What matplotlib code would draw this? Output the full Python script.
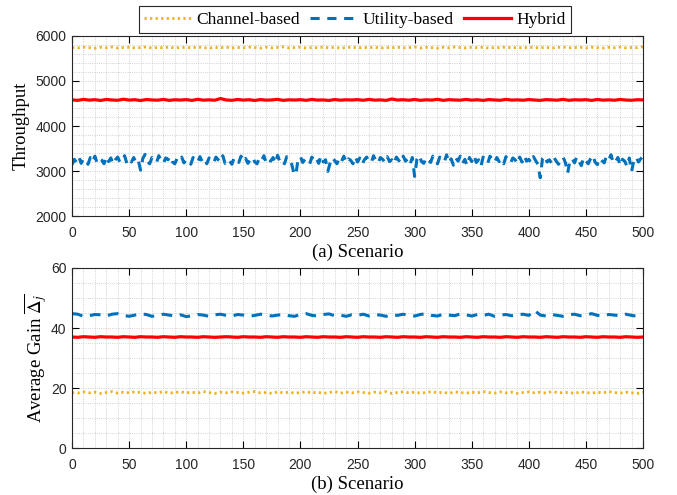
import numpy as np
import matplotlib.pyplot as plt
from matplotlib.ticker import MultipleLocator

plt.rcParams['mathtext.fontset'] = 'stix'

# scenario index, sampled every 5 scenarios (every 2 for the noisy utility curve)
scenario = np.arange(0, 501, 5)
scenario_fine = np.arange(0, 501, 2)

# (a) throughput
thr_channel = [5745, 5735, 5752, 5740, 5728, 5748, 5738, 5755, 5732, 5744,
               5750, 5736, 5742, 5758, 5730, 5746, 5739, 5752, 5734, 5743,
               5748, 5737, 5756, 5741, 5729, 5747, 5740, 5751, 5733, 5745,
               5738, 5754, 5742, 5731, 5749, 5736, 5746, 5757, 5735, 5743,
               5750, 5732, 5744, 5739, 5753, 5737, 5748, 5730, 5741, 5755,
               5734, 5746, 5740, 5752, 5729, 5745, 5738, 5750, 5736, 5743,
               5756, 5733, 5747, 5741, 5730, 5749, 5737, 5754, 5742, 5735,
               5748, 5739, 5751, 5731, 5744, 5740, 5757, 5736, 5746, 5733,
               5752, 5741, 5738, 5749, 5730, 5745, 5754, 5737, 5743, 5748,
               5735, 5750, 5740, 5732, 5747, 5739, 5753, 5736, 5744, 5741,
               5760]
thr_utility = [3140, 3260, 3190, 3310, 3170, 3280, 3220, 3150, 3300, 3200,
               3330, 3180, 3270, 3240, 3160, 3320, 3210, 3290, 3150, 3250,
               3310, 3190, 3230, 3340, 3170, 3260, 3200, 3300, 3180, 3240,
               3020, 3280, 3370, 3210, 3160, 3300, 3230, 3190, 3340, 3220,
               3170, 3290, 3250, 3330, 3200, 3160, 3280, 3230, 3310, 3180,
               3260, 3220, 3150, 3300, 3240, 3190, 3320, 3210, 3270, 3160,
               3290, 3230, 3180, 3310, 3250, 3200, 3340, 3170, 3260, 3220,
               3150, 3300, 3240, 3190, 3330, 3210, 3280, 3170, 3250, 3310,
               3200, 3160, 3290, 3230, 3340, 3180, 3260, 3220, 3300, 3170,
               3350, 3210, 3250, 3160, 3320, 3240, 3190, 2980, 2910, 3280,
               3320, 3190, 3260, 3230, 3150, 3310, 3220, 3280, 3170, 3340,
               3200, 3250, 2990, 3180, 3300, 3230, 3160, 3290, 3210, 3330,
               3180, 3270, 3240, 3160, 3320, 3200, 3290, 3150, 3250, 3310,
               3220, 3180, 3340, 3230, 3170, 3300, 3260, 3190, 3320, 3210,
               3250, 3160, 3310, 3240, 3180, 3330, 3220, 3270, 3150, 3300,
               2880, 3260, 3350, 3210, 3170, 3300, 3240, 3190, 3330, 3220,
               3160, 3310, 3250, 3200, 3360, 3180, 3270, 3130, 3290, 3220,
               3330, 3170, 3260, 3120, 3300, 3210, 3350, 3190, 3250, 3100,
               3310, 3220, 3170, 3330, 3240, 3190, 3300, 3210, 3270, 3160,
               3320, 3230, 3180, 3290, 3250, 3160, 3310, 3200, 3340, 3220,
               3260, 3180, 3320, 3230, 3150, 2850, 3280, 3340, 3200, 3250,
               3170, 3300, 3220, 3150, 3260, 3310, 3190, 2950, 3240, 3280,
               3180, 3320, 3210, 3120, 3300, 3230, 3160, 3270, 3350, 3200,
               3140, 3290, 3230, 3180, 3330, 3250, 3360, 3170, 3210, 3300,
               3120, 3260, 3220, 3100, 3290, 2990, 3240, 3310, 3200, 3270,
               3340]
thr_hybrid = [4580, 4570, 4592, 4575, 4585, 4568, 4590, 4578, 4572, 4595,
              4576, 4584, 4566, 4588, 4579, 4574, 4591, 4570, 4583, 4577,
              4586, 4569, 4593, 4575, 4581, 4573, 4610, 4578, 4571, 4589,
              4576, 4584, 4568, 4587, 4574, 4580, 4592, 4570, 4582, 4577,
              4585, 4571, 4590, 4576, 4579, 4568, 4588, 4574, 4583, 4578,
              4586, 4572, 4591, 4575, 4580, 4569, 4600, 4577, 4584, 4573,
              4589, 4571, 4582, 4576, 4593, 4570, 4585, 4578, 4574, 4590,
              4575, 4583, 4569, 4587, 4579, 4572, 4591, 4576, 4581, 4573,
              4588, 4577, 4570, 4586, 4580, 4574, 4592, 4571, 4583, 4578,
              4585, 4569, 4589, 4575, 4581, 4573, 4590, 4577, 4572, 4584,
              4580]

# (b) average gain
gain_channel = [18.5, 18.3, 18.7, 18.4, 18.6, 18.2, 18.5, 18.8, 18.3, 18.6,
                18.4, 18.7, 18.5, 18.2, 18.6, 18.4, 18.8, 18.3, 18.5, 18.7,
                18.4, 18.6, 18.3, 18.8, 18.5, 18.2, 18.6, 18.4, 18.7, 18.5,
                18.3, 18.6, 18.8, 18.4, 18.5, 18.2, 18.7, 18.4, 18.6, 18.3,
                18.5, 18.7, 18.4, 18.6, 18.2, 18.5, 18.8, 18.3, 18.6, 18.4,
                18.7, 18.5, 18.3, 18.6, 18.4, 18.8, 18.2, 18.5, 18.7, 18.4,
                18.6, 18.3, 18.5, 18.8, 18.4, 18.6, 18.2, 18.7, 18.5, 18.3,
                18.6, 18.4, 18.8, 18.5, 18.3, 18.7, 18.4, 18.6, 18.2, 18.5,
                18.7, 18.4, 18.6, 18.3, 18.8, 18.5, 18.4, 18.6, 18.2, 18.7,
                18.5, 18.3, 18.6, 18.4, 18.8, 18.5, 18.3, 18.6, 18.4, 18.2,
                18.6]
gain_utility = [44.8, 44.6, 43.9, 44.1, 44.5, 44.4, 44.0, 44.6, 44.8, 44.2,
                43.9, 44.3, 44.7, 44.5, 43.9, 44.2, 44.6, 44.3, 44.0, 44.4,
                43.8, 44.1, 44.5, 44.3, 43.9, 44.4, 44.6, 44.2, 44.0, 44.5,
                44.3, 43.9, 44.2, 44.6, 44.4, 44.0, 44.3, 44.5, 44.1, 43.9,
                44.6, 44.8, 44.2, 44.0, 44.5, 44.7, 44.1, 44.3, 43.9, 44.4,
                44.2, 44.6, 44.0, 44.5, 44.3, 43.9, 44.4, 44.2, 44.6, 44.1,
                44.0, 44.5, 44.8, 44.2, 44.0, 44.6, 44.3, 44.1, 44.7, 44.4,
                44.0, 44.5, 44.2, 44.6, 43.9, 44.3, 44.5, 44.1, 44.4, 44.6,
                44.2, 45.9, 44.3, 44.0, 44.5, 44.2, 43.9, 44.4, 44.6, 44.1,
                44.3, 44.8, 44.2, 44.0, 44.5, 44.3, 44.1, 44.6, 44.2, 43.9,
                43.7]
gain_hybrid = [37.0, 36.9, 37.1, 37.0, 36.9, 37.1, 37.0, 37.0, 36.9, 37.1,
               37.0, 36.9, 37.1, 37.0, 37.0, 36.9, 37.1, 37.0, 36.9, 37.1,
               37.0, 37.0, 36.9, 37.1, 37.0, 36.9, 37.0, 37.1, 37.0, 36.9,
               37.1, 37.0, 37.0, 36.9, 37.1, 37.0, 36.9, 37.1, 37.0, 37.0,
               36.9, 37.1, 37.0, 36.9, 37.1, 37.0, 37.0, 36.9, 37.1, 37.0,
               36.9, 37.1, 37.0, 37.0, 36.9, 37.1, 37.0, 36.9, 37.1, 37.0,
               37.0, 36.9, 37.1, 37.0, 36.9, 37.1, 37.0, 37.0, 36.9, 37.1,
               37.0, 36.9, 37.1, 37.0, 37.0, 36.9, 37.1, 37.0, 36.9, 37.1,
               37.0, 37.0, 36.9, 37.1, 37.0, 36.9, 37.1, 37.0, 37.0, 36.9,
               37.1, 37.0, 36.9, 37.1, 37.0, 37.0, 36.9, 37.1, 37.0, 36.9,
               37.0]

c_yellow = '#EDB120'
c_blue = '#0072BD'
c_red = '#FF0000'
serif = 'Liberation Serif'
sans = 'Liberation Sans'

fig = plt.figure(figsize=(6.77, 4.95), dpi=100)
ax1 = fig.add_axes([0.1064, 0.5636, 0.8434, 0.3637])
ax2 = fig.add_axes([0.1064, 0.0949, 0.8434, 0.3637])


def style_axes(ax, ymin, ymax, ymajor, yminor, xlabel, ylabel, ylabelpad):
    ax.set_xlim(0, 500)
    ax.set_ylim(ymin, ymax)
    ax.xaxis.set_major_locator(MultipleLocator(50))
    ax.xaxis.set_minor_locator(MultipleLocator(10))
    ax.yaxis.set_major_locator(MultipleLocator(ymajor))
    ax.yaxis.set_minor_locator(MultipleLocator(yminor))
    ax.grid(True, which='both', linestyle=':', color='#c4c4c4', linewidth=0.6)
    ax.set_axisbelow(True)
    ax.tick_params(which='major', direction='in', top=True, right=True,
                   length=5, width=0.8, labelsize=10)
    ax.tick_params(axis='x', pad=7)
    ax.tick_params(axis='y', pad=4)
    ax.tick_params(which='minor', length=0)
    for lbl in ax.get_xticklabels() + ax.get_yticklabels():
        lbl.set_fontfamily(sans)
        lbl.set_color('#262626')
    for sp in ax.spines.values():
        sp.set_linewidth(0.8)
        sp.set_color('#262626')
    ax.set_xlabel(xlabel, fontfamily=serif, fontsize=13.5, labelpad=3)
    ax.set_ylabel(ylabel, fontfamily=serif, fontsize=13.5, labelpad=ylabelpad)


l1, = ax1.plot(scenario, thr_channel, linestyle=(0, (0.8, 1.2)), color=c_yellow,
               linewidth=2, label='Channel-based')
l2, = ax1.plot(scenario_fine, thr_utility, linestyle=(0, (3.0, 2.5)), color=c_blue,
               linewidth=2.2, label='Utility-based')
l3, = ax1.plot(scenario, thr_hybrid, linestyle='-', color=c_red,
               linewidth=2.3, label='Hybrid')
style_axes(ax1, 2000, 6000, 1000, 200, '(a) Scenario', 'Throughput', 4)

ax2.plot(scenario, gain_channel, linestyle=(0, (0.8, 1.2)), color=c_yellow, linewidth=2)
ax2.plot(scenario, gain_utility, linestyle=(0, (3.5, 2.5)), color=c_blue, linewidth=2.2)
ax2.plot(scenario, gain_hybrid, linestyle='-', color=c_red, linewidth=2.3)
style_axes(ax2, 0, 60, 20, 5, '(b) Scenario', r'Average Gain $\overline{\Delta_j}$', 1)

leg = fig.legend(handles=[l1, l2, l3], loc='upper center', ncol=3,
                 bbox_to_anchor=(0.524, 0.994), frameon=True, fancybox=False,
                 edgecolor='#262626', framealpha=1, handlelength=2.7,
                 columnspacing=0.6, handletextpad=0.3, borderpad=0.3,
                 borderaxespad=0.2, prop={'family': serif, 'size': 12.5})
leg.get_frame().set_linewidth(0.8)

fig.savefig('out.png', dpi=100)
